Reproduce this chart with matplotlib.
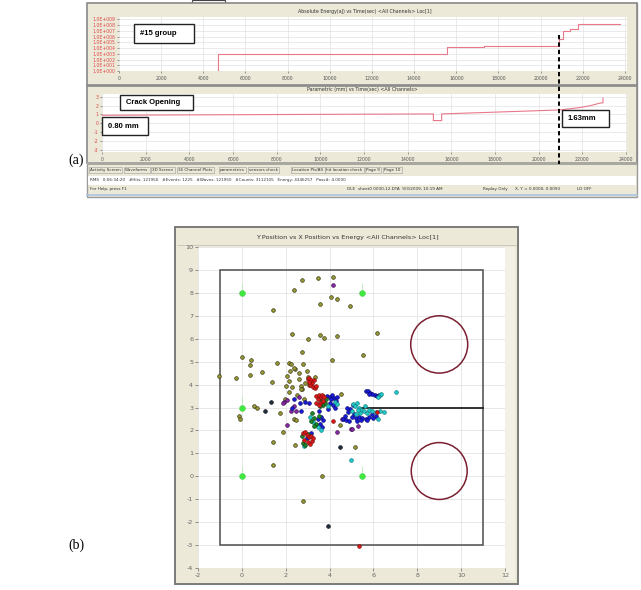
import numpy as np
import matplotlib
matplotlib.use('Agg')
import matplotlib.pyplot as plt
from matplotlib.patches import Rectangle, Ellipse

plt.rcParams['axes.unicode_minus'] = False

W, H = 641, 590

# absolute energy (aJ) vs time (sec), stepwise cumulative
energy_t = [4700, 4700, 15550, 17300, 20870, 21080, 21400, 21760, 23770]
energy_v = [1, 1e3, 1.3e4, 2.5e4, 4.0e5, 1.0e7, 2.5e7, 1.6e8, 1.6e8]

# crack opening (mm) vs time (sec)
open_t = [0, 5000, 10000, 15180, 15180, 15560, 15560, 18000, 20980, 21900, 22350, 22810, 22950, 22950]
open_v = [0.9, 0.95, 1.0, 1.05, 0.3, 0.3, 1.05, 1.25, 1.5, 1.77, 1.97, 2.27, 2.3, 2.84]
crack_t = 20870

time_ticks = list(range(0, 24001, 2000))
energy_exp = list(range(0, 10))
open_ticks = [-3, -2, -1, 0, 1, 2, 3]

# source locations, grouped by display colour
olive_x = [2.76, 3.48, 4.17, 2.38, 4.08, 4.32, 3.58, 4.91, 1.41, 2.30, 3.56, 3.73, 4.32, 3.00,
           6.17, 5.53, 2.73, 4.12, 0.02, 0.42, 0.35, 1.61, 2.17, 2.25, 2.77, 2.41, 2.21, 0.91,
           0.35, -1.03, -0.27, 2.08, 2.62, 2.98, 2.15, 1.36, 2.03, 2.68, 2.75, 3.00, 3.33, 4.51,
           1.97, 2.83, 2.38, 2.60, 2.30, 2.15, 3.06, 2.68, 1.41, 1.41, 2.44, 2.80, 3.64, 5.18,
           1.74, 1.89, 0.55, 0.71, -0.12, -0.10, 2.38, 2.45, 4.47, 2.50, 2.90]
olive_y = [8.56, 8.65, 8.69, 8.13, 7.84, 7.72, 7.52, 7.43, 7.24, 6.20, 6.18, 6.05, 6.11, 5.98,
           6.26, 5.27, 5.40, 5.05, 5.21, 5.05, 4.85, 4.92, 4.96, 4.88, 4.90, 4.68, 4.60, 4.55,
           4.42, 4.37, 4.27, 4.37, 4.49, 4.58, 4.14, 4.13, 3.93, 3.93, 3.80, 4.35, 4.33, 3.60,
           3.35, 3.39, 4.74, 4.26, 3.89, 3.67, 3.96, 3.82, 1.48, 0.51, 1.35, -1.09, 0.00, 1.28,
           2.76, 1.95, 3.05, 2.96, 2.64, 2.50, 2.50, 2.45, 2.25, 3.55, 4.05]

dark_x = [1.06, 1.35, 4.47, 3.94]
dark_y = [2.83, 3.25, 1.28, -2.17]

purple_x = [4.17, 1.92, 2.36, 2.23, 2.05, 4.58, 4.97, 4.35, 5.28, 1.89, 2.08, 2.45, 5.03, 2.60]
purple_y = [8.36, 3.23, 3.08, 2.86, 2.25, 2.51, 2.06, 1.91, 2.20, 3.19, 3.33, 2.86, 2.06, 3.45]

blue_x = [3.90, 4.00, 4.10, 4.20, 4.30, 4.00, 4.15, 4.25, 3.95, 4.35, 4.05,
          3.50, 3.60, 3.70, 3.55, 3.65, 3.45, 3.15, 2.95,
          4.60, 4.70, 4.75, 4.85, 4.95, 5.05, 5.10, 5.20, 4.90, 5.00, 4.80, 5.25,
          5.35, 5.50, 5.65, 5.80, 5.95, 6.10, 5.45, 5.70, 6.00,
          5.65, 5.75, 5.85, 5.95, 6.05, 6.15, 6.25, 5.80,
          2.38, 2.65, 2.68, 2.27, 2.90, 3.05]
blue_y = [3.50, 3.45, 3.55, 3.40, 3.30, 3.20, 3.10, 3.00, 2.95, 3.45, 3.35,
          2.85, 2.60, 2.45, 2.30, 2.15, 2.50, 1.90, 1.65,
          2.50, 2.65, 2.45, 2.80, 2.95, 3.10, 2.70, 2.55, 2.40, 2.60, 3.00, 2.40,
          2.60, 2.55, 2.50, 2.60, 2.70, 2.65, 2.45, 2.45, 2.55,
          3.70, 3.72, 3.65, 3.60, 3.55, 3.50, 3.55, 3.60,
          3.35, 3.19, 2.86, 2.98, 3.25, 3.20]

cyan_x = [5.05, 5.15, 5.25, 5.35, 5.45, 5.55, 5.60, 5.70, 5.40, 5.30, 5.80, 5.95, 6.10, 6.30,
          6.47, 6.20, 5.20, 5.00, 6.30, 6.20, 6.35, 3.10, 3.25, 3.45, 3.60, 4.25, 4.35, 3.95,
          2.85, 7.05, 4.97]
cyan_y = [3.15, 3.05, 3.20, 3.00, 2.90, 2.85, 3.05, 2.75, 2.75, 2.90, 2.90, 2.85, 2.80, 2.85,
          2.82, 2.50, 2.70, 2.85, 3.55, 3.45, 3.60, 2.60, 2.35, 2.15, 2.00, 3.25, 3.15, 3.05,
          1.30, 3.66, 0.69]

green_x = [3.55, 3.62, 3.70, 3.80, 3.58, 3.85, 3.68, 3.20, 3.30, 3.15, 3.40, 3.30, 3.50,
           2.80, 2.90, 3.00, 2.75]
green_y = [3.40, 3.25, 3.10, 3.20, 3.05, 3.35, 3.50, 2.75, 2.55, 2.40, 2.30, 2.20, 2.65,
           1.45, 1.35, 1.85, 1.75]

red_x = [3.00, 3.08, 3.15, 3.20, 3.10, 3.25, 3.35, 3.40, 3.05, 3.30,
         3.40, 3.50, 3.45, 3.55, 3.60, 3.70, 3.50, 3.65, 3.40, 3.75,
         2.80, 2.90, 2.95, 3.05, 3.15, 3.20, 3.00, 3.10, 3.25, 2.85,
         4.15, 6.17, 5.36]
red_y = [4.25, 4.30, 4.18, 4.05, 3.98, 3.90, 3.85, 3.95, 4.10, 4.20,
         3.50, 3.55, 3.35, 3.20, 3.45, 3.30, 3.10, 3.55, 3.20, 3.45,
         1.90, 1.95, 1.80, 1.70, 1.75, 1.55, 1.50, 1.40, 1.65, 1.60,
         2.40, 2.82, -3.02]

sensor_x = [0, 5.5, 0, 0, 5.5]
sensor_y = [8, 8, 3, 0, 0]

BEIGE = '#ECE9D8'
UI = ['DejaVu Sans']

fig = plt.figure(figsize=(W / 100, H / 100), dpi=100)
bg = fig.add_axes([0, 0, 1, 1])
bg.set_xlim(0, W)
bg.set_ylim(H, 0)
bg.axis('off')


def px_axes(x0, y0, x1, y1):
    return fig.add_axes([x0 / W, 1 - y1 / H, (x1 - x0) / W, (y1 - y0) / H])


def box(ax, x0, y0, x1, y1, fc='none', ec='#808080', lw=0.8, z=1):
    ax.add_patch(Rectangle((x0, y0), x1 - x0, y1 - y0, fc=fc, ec=ec, lw=lw, zorder=z))


# ---- software window (a) ----
box(bg, 87, 3, 637, 197, fc=BEIGE, ec='#9a9a9a', lw=1.0)
box(bg, 192, 0, 225, 5, fc='white', ec='#444444', lw=0.8)
box(bg, 87, 3, 637, 85, fc=BEIGE, ec='#8a8a8a', lw=1.2)
box(bg, 87, 86, 637, 163, fc=BEIGE, ec='#8a8a8a', lw=1.2)
box(bg, 87, 162, 637, 165, fc='#a8a8a0', ec='none')
bg.text(365, 11, 'Absolute Energy(aJ) vs Time(sec) <All Channels> Loc[1]', fontsize=3.4,
        ha='center', va='center', color='#333333', family=UI)
bg.text(362, 90, 'Parametric (mm) vs Time(sec) <All Channels>', fontsize=3.4,
        ha='center', va='center', color='#333333', family=UI)

ax1 = px_axes(119, 17, 627, 71)
ax1.set_facecolor('white')
ax1.plot(energy_t, energy_v, drawstyle='steps-post', color='#e8788a', lw=0.8)
ax1.set_yscale('log')
ax1.set_xlim(0, 24095)
ax1.set_ylim(1, 10 ** 9.4)
ax1.set_yticks([10.0 ** k for k in energy_exp])
ax1.set_yticklabels(['1.0E+%03d' % k for k in energy_exp])
ax1.minorticks_off()

ax2 = px_axes(102, 94, 627, 152)
ax2.set_facecolor('white')
ax2.plot(open_t, open_v, color='#e8788a', lw=0.8)
ax2.set_xlim(0, 24050)
ax2.set_ylim(-3.25, 3.3)
ax2.set_yticks(open_ticks)

for ax in (ax1, ax2):
    ax.set_xticks(time_ticks)
    ax.set_xticklabels([str(t) for t in time_ticks])
    ax.grid(True, color='#e2e2e2', lw=0.5)
    ax.set_axisbelow(True)
    ax.tick_params(axis='x', labelsize=3.3, length=1.5, width=0.4, pad=2, colors='#555555')
    ax.tick_params(axis='y', labelsize=3.3, length=1.5, width=0.4, pad=1, colors='#555555',
                   labelcolor='#e04848')
    for s in ax.spines.values():
        s.set_visible(False)

tabs = [(90, 'Activity Screen'), (125, 'Waveforms'), (152, '3D Screen'), (178, '16 Channel Plots'),
        (220, 'parametrics'), (249, 'sensors check'), (292, 'Location Pls/AS'),
        (326, 'hit location check'), (366, 'Page 9'), (384, 'Page 10')]
for x, s in tabs:
    bg.text(x, 170, s, fontsize=3.0, ha='left', va='center', color='#333333', family=UI,
            bbox=dict(boxstyle='square,pad=0.35', fc=BEIGE, ec='#9a9a9a', lw=0.4))
box(bg, 88, 176, 636, 185, fc='white', ec='none')
bg.text(90, 180.5, 'RMS   0:06:34:20   #Hits: 121950   #Events: 1225   #Waves: 121950   '
        '#Counts: 3112105   Energy: 4346257   Pass#: 4.0000', fontsize=3.0, ha='left',
        va='center', color='#333333', family=UI)
bg.text(90, 189, 'For Help, press F1', fontsize=3.0, ha='left', va='center', color='#333333',
        family=UI)
for x, s in [(347, 'IDLE'), (358, 'sheet0 0000-12.DTA  9/3/2009, 10:19 AM'),
             (483, 'Replay Only'), (515, 'X, Y = 0.0000, 0.0093'), (577, 'LD OFF')]:
    bg.text(x, 189, s, fontsize=3.0, ha='left', va='center', color='#333333', family=UI)
bg.plot([87, 637], [195, 195], color='#a9c4e4', lw=1.2)

# ---- location plot (b) ----
box(bg, 175, 227, 518, 584, fc=BEIGE, ec='#7a7a7a', lw=1.4)
bg.plot([177, 516], [245, 245], color='#c8c5b6', lw=0.6)
bg.text(347, 237, 'Y Position vs X Position vs Energy <All Channels> Loc[1]', fontsize=4.6,
        ha='center', va='center', color='#333333', family=UI)
box(bg, 505, 247, 515, 580, fc='#F3F1E6', ec='none')

ax3 = px_axes(198, 247, 505, 568)
ax3.set_facecolor('white')
ax3.set_xlim(-2, 12)
ax3.set_ylim(-4, 10)
ax3.set_xticks(range(-2, 13, 2))
ax3.set_yticks(range(-4, 11))
ax3.grid(True, color='#e4e4e4', lw=0.6)
ax3.set_axisbelow(True)
ax3.tick_params(labelsize=4.6, length=2, width=0.5, pad=1.5, colors='#666666')
for s in ax3.spines.values():
    s.set_visible(False)

ax3.add_patch(Rectangle((-1, -3), 12, 12, fill=False, ec='#4d4d4d', lw=1.1, zorder=2))
ax3.plot([5.5, 11], [3, 3], color='#222222', lw=1.3, zorder=2)
ax3.add_patch(Ellipse((9, 5.75), 2.6, 2.5, fill=False, ec='#7b2030', lw=1.1, zorder=2))
ax3.add_patch(Ellipse((9, 0.23), 2.55, 2.48, fill=False, ec='#7b2030', lw=1.1, zorder=2))

ax3.vlines(sensor_x, [y + 0.05 for y in sensor_y], [y + 0.45 for y in sensor_y],
           color='#b8e8b8', lw=0.6, zorder=3)
ax3.scatter(sensor_x, sensor_y, s=18, marker='o', c='#3ee83e', edgecolors='#60d060',
            lw=0.4, zorder=3)

series = [(olive_x, olive_y, '#9a9a32', '#3a3a1a'),
          (dark_x, dark_y, '#203040', '#101018'),
          (purple_x, purple_y, '#8a2aa8', '#401050'),
          (blue_x, blue_y, '#1a1ae0', '#0a0a70'),
          (cyan_x, cyan_y, '#22cccc', '#108080'),
          (green_x, green_y, '#1a8a2a', '#0a4010'),
          (red_x, red_y, '#e01818', '#801010')]
for i, (xs, ys, fc, ec) in enumerate(series):
    ax3.scatter(xs, ys, s=7, c=fc, edgecolors=ec, lw=0.5, zorder=4 + i)

bg.text(76, 160, '(a)', fontsize=10, ha='center', va='center', family=['Liberation Serif'])
bg.text(76, 545, '(b)', fontsize=10, ha='center', va='center', family=['Liberation Serif'])

# ---- annotations drawn over the plots ----
ov = fig.add_axes([0, 0, 1, 1])
ov.set_xlim(0, W)
ov.set_ylim(H, 0)
ov.axis('off')
ov.patch.set_alpha(0)


def note(x0, y0, x1, y1, s):
    box(ov, x0, y0, x1, y1, fc='white', ec='#222222', lw=1.0, z=5)
    ov.text(x0 + 6, (y0 + y1) / 2, s, fontsize=5.5, fontweight='bold', va='center',
            ha='left', family=['Liberation Sans'], zorder=6)


note(134, 24, 194, 43, '#15 group')
note(120, 95, 193, 110, 'Crack Opening')
note(102, 117, 148, 135, '0.80 mm')
note(562, 110, 609, 127, '1.63mm')

# crack opening marker across both plots
crack_px = 119 + crack_t * (627 - 119) / 24095
ov.plot([crack_px, crack_px], [35, 164], color='black', lw=1.4, dashes=(2.2, 1.6), zorder=7)

fig.savefig('out.png', dpi=100, facecolor='white')
